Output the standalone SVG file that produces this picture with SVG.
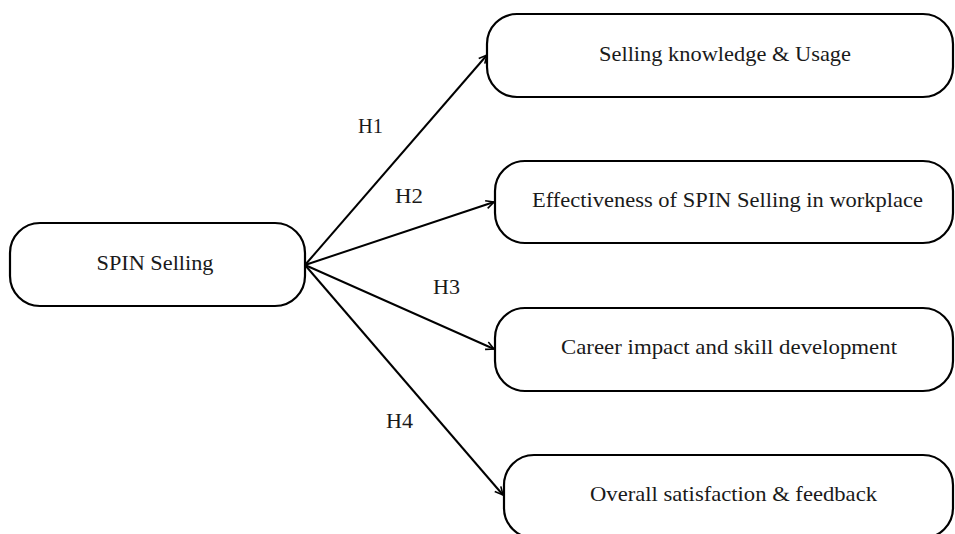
<svg xmlns="http://www.w3.org/2000/svg" width="955" height="534" viewBox="0 0 955 534">
<style>
.box{fill:#fff;stroke:#000;stroke-width:2.2}
.t{font-family:"Liberation Serif","Times New Roman",serif;font-size:22px;fill:#1a1a1a;text-anchor:middle}
.h{font-family:"Liberation Serif","Times New Roman",serif;font-size:21.5px;fill:#1a1a1a}
.c{stroke:#000;stroke-width:2;fill:none;marker-end:url(#arr)}
</style>
<defs>
<marker id="arr" viewBox="0 0 10 10" refX="9" refY="5" markerWidth="5" markerHeight="5" orient="auto" markerUnits="strokeWidth">
<path d="M1,1 L9,5 L1,9" fill="none" stroke="#000" stroke-width="1.6"/>
</marker>
</defs>
<rect width="955" height="534" fill="#fff"/>
<g id="connectors">
<line class="c" x1="305" y1="265" x2="487" y2="55"/>
<line class="c" x1="305" y1="265" x2="494" y2="202"/>
<line class="c" x1="305" y1="265" x2="494" y2="349"/>
<line class="c" x1="305" y1="265" x2="503" y2="495"/>
<text class="h" x="358" y="133" textLength="25" lengthAdjust="spacingAndGlyphs">H1</text>
<text class="h" x="395" y="203" textLength="28" lengthAdjust="spacingAndGlyphs">H2</text>
<text class="h" x="433" y="294" textLength="27" lengthAdjust="spacingAndGlyphs">H3</text>
<text class="h" x="386" y="428" textLength="27" lengthAdjust="spacingAndGlyphs">H4</text>
</g>
<g id="spin">
<rect class="box" x="10" y="223" width="295" height="83" rx="30" ry="30"/>
<text class="t" x="155" y="270" textLength="117" lengthAdjust="spacingAndGlyphs">SPIN Selling</text>
</g>
<g id="knowledge">
<rect class="box" x="487" y="14" width="466" height="83" rx="30" ry="30"/>
<text class="t" x="725" y="61" textLength="252" lengthAdjust="spacingAndGlyphs">Selling knowledge &amp; Usage</text>
</g>
<g id="effectiveness">
<rect class="box" x="495" y="161" width="458" height="82" rx="30" ry="30"/>
<text class="t" x="727.5" y="207" textLength="391" lengthAdjust="spacingAndGlyphs">Effectiveness of SPIN Selling in workplace</text>
</g>
<g id="career">
<rect class="box" x="495" y="308" width="458" height="83" rx="30" ry="30"/>
<text class="t" x="729" y="354" textLength="336" lengthAdjust="spacingAndGlyphs">Career impact and skill development</text>
</g>
<g id="satisfaction">
<rect class="box" x="504" y="455" width="449" height="83" rx="30" ry="30"/>
<text class="t" x="733.5" y="501" textLength="287" lengthAdjust="spacingAndGlyphs">Overall satisfaction &amp; feedback</text>
</g>
</svg>
